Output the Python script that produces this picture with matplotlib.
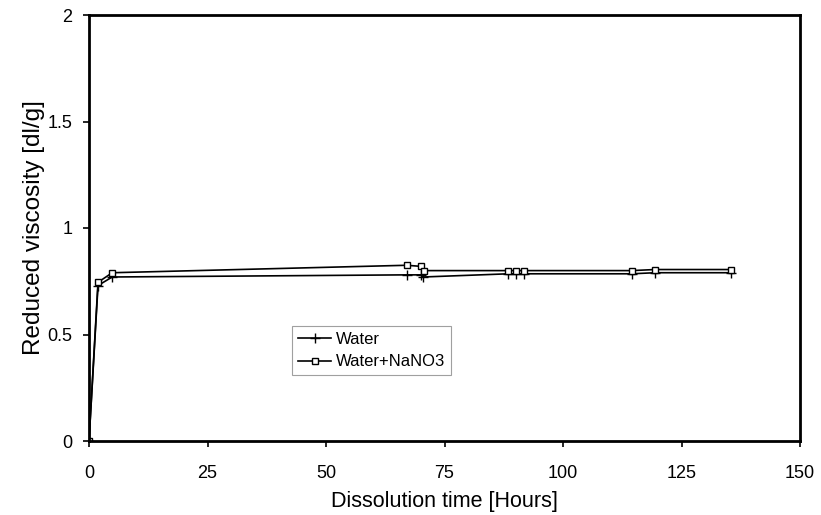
import matplotlib
matplotlib.use('Agg')
import matplotlib.pyplot as plt

plt.rcParams['font.family'] = ['Liberation Sans', 'DejaVu Sans']

# Dissolution time [hours]
time_water = [0, 1.9, 4.9, 67.0, 70.0, 70.5, 88.5, 90.1, 91.8, 114.5, 119.4, 135.5]
visc_water = [0, 0.73, 0.77, 0.78, 0.78, 0.77, 0.785, 0.785, 0.785, 0.785, 0.79, 0.79]

time_nano3 = [0, 1.9, 4.9, 67.0, 70.0, 70.7, 88.5, 90.1, 91.8, 114.5, 119.4, 135.5]
visc_nano3 = [0, 0.745, 0.79, 0.825, 0.82, 0.80, 0.80, 0.80, 0.80, 0.80, 0.805, 0.805]

fig = plt.figure(figsize=(8.21, 5.15), dpi=100)
ax = fig.add_axes([89/821, 1 - 441/515, 711/821, 426/515])

ax.plot(time_water, visc_water, '-', color='black', marker='+', markersize=7,
        linewidth=1.2, label='Water')
ax.plot(time_nano3, visc_nano3, '-', color='black', marker='s', markersize=5,
        markerfacecolor='white', markeredgewidth=1.0, linewidth=1.2,
        label='Water+NaNO3')

ax.set_xlim(0, 150)
ax.set_ylim(0, 2)
ax.set_xticks([0, 25, 50, 75, 100, 125, 150])
ax.set_yticks([0, 0.5, 1, 1.5, 2])
ax.set_yticklabels(['0', '0.5', '1', '1.5', '2'])
ax.tick_params(direction='out', length=4, width=1.2, labelsize=13, colors='black')
ax.tick_params(axis='x', pad=13)
ax.tick_params(axis='y', pad=8)

for s in ax.spines.values():
    s.set_linewidth(2)

ax.set_xlabel('Dissolution time [Hours]', fontsize=15.5, labelpad=7)
ax.set_ylabel('Reduced viscosity [dl/g]', fontsize=17.5, labelpad=2)

leg = ax.legend(loc='upper left', bbox_to_anchor=(203/711, 115/426),
                fontsize=12, frameon=True, fancybox=False, handlelength=2,
                handletextpad=0.3, borderpad=0.35, labelspacing=0.45,
                borderaxespad=0)
leg.get_frame().set_edgecolor('#888888')
leg.get_frame().set_linewidth(0.8)

fig.savefig('out.png', dpi=100)
